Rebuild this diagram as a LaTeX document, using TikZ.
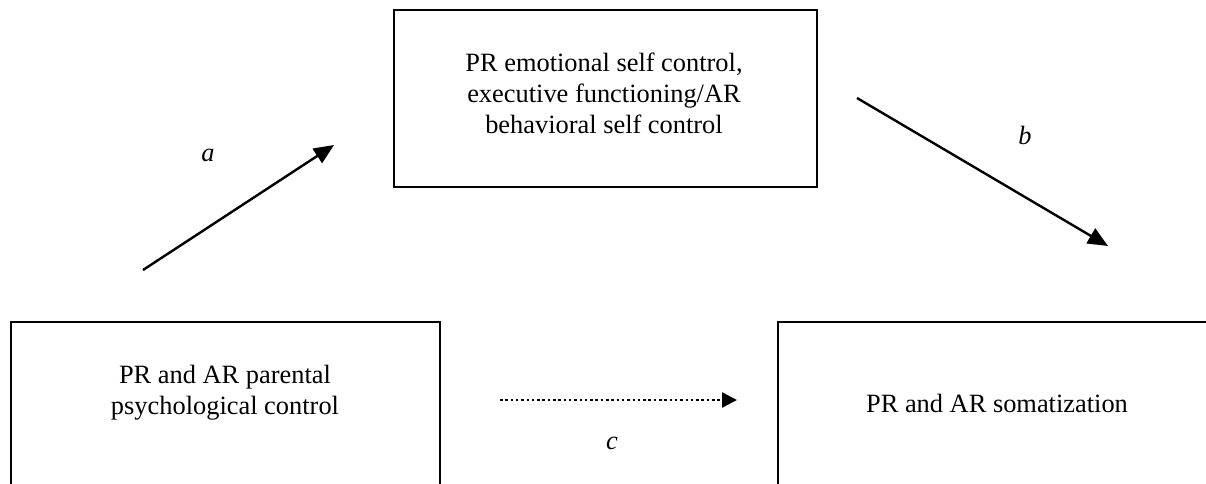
\documentclass[tikz,border=0pt]{standalone}
\usepackage{fontspec}
\setmainfont{Liberation Serif}
\usetikzlibrary{arrows.meta}
\begin{document}
\begin{tikzpicture}[x=1pt,y=-1pt,
  box/.style={draw, line width=1.8pt, anchor=north west, inner sep=0pt},
  txt/.style={align=center, inner sep=0pt, font=\fontsize{26.4}{31}\selectfont},
  lab/.style={inner sep=0pt, font=\fontsize{26.4}{31}\selectfont\itshape},
  arr/.style={line width=2.4pt, -{Triangle[length=20pt,width=17pt]}},
  dotarr/.style={line width=2.4pt, dash pattern=on 2.5pt off 2.8pt, -{Triangle[length=15pt,width=15pt]}}]
\useasboundingbox (0,0) rectangle (1206,483);
\clip (0,0) rectangle (1206,483);
% boxes
\node[box, minimum width=423pt, minimum height=177pt] (med) at (393,9) {};
\node[box, minimum width=429pt, minimum height=209pt] (pred) at (10,321) {};
\node[box, minimum width=438pt, minimum height=209pt] (out) at (777,321) {};
% texts
\node[txt] (medtxt) at (604,93) {PR emotional self control,\\executive functioning/AR\\behavioral self control};
\node[txt] (predtxt) at (225,393) {PR and AR parental\\psychological control};
\node[txt] (outtxt) at (997,403) {PR and AR somatization};
% arrow endpoints
\coordinate (a0) at (143,270);
\coordinate (a1) at (334,145);
\coordinate (b0) at (857,98);
\coordinate (b1) at (1108,246);
\coordinate (c0) at (500,400);
\coordinate (c1) at (737,400);
\draw[arr] (a0) -- (a1);
\draw[arr] (b0) -- (b1);
\draw[dotarr] (c0) -- (c1);
% labels
\node[lab] (la) at (208,155) {a};
\node[lab] (lb) at (1025,135) {b};
\node[lab] (lc) at (612,443) {c};
\end{tikzpicture}
\end{document}
